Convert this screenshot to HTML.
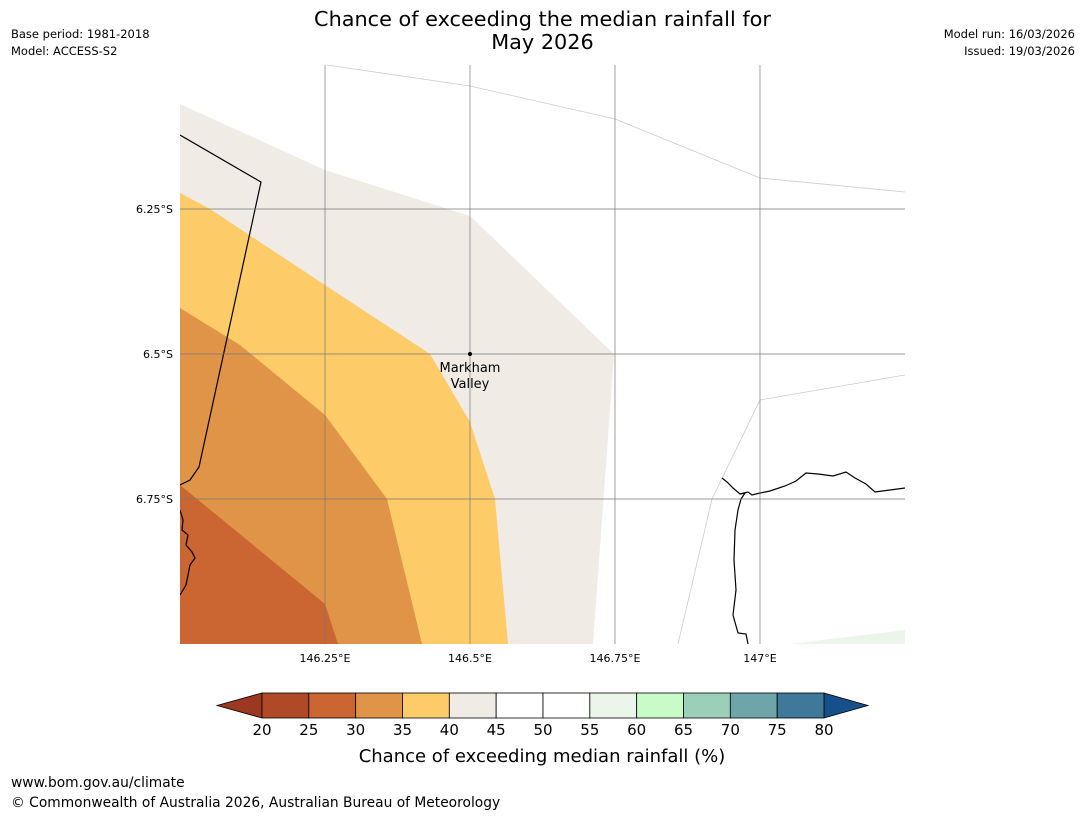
<!DOCTYPE html>
<html><head><meta charset="utf-8"><style>
body{margin:0;background:#fff;font-family:"Liberation Sans","DejaVu Sans",sans-serif;}
#wrap{position:relative;width:1085px;height:816px;overflow:hidden;}
.t{position:absolute;white-space:nowrap;color:#000;}
</style></head><body>
<div id="wrap">
<div class="t" style="left:0;width:1085px;top:8px;text-align:center;font-size:20.8px;line-height:23px;font-family:'DejaVu Sans',sans-serif;">Chance of exceeding the median rainfall for<br>May 2026</div>
<div class="t" style="left:11px;top:27px;font-size:11.5px;font-family:'DejaVu Sans',sans-serif;">Base period: 1981-2018</div>
<div class="t" style="left:11px;top:44px;font-size:11.5px;font-family:'DejaVu Sans',sans-serif;">Model: ACCESS-S2</div>
<div class="t" style="right:10px;top:27px;font-size:11.5px;font-family:'DejaVu Sans',sans-serif;">Model run: 16/03/2026</div>
<div class="t" style="right:10px;top:44px;font-size:11.5px;font-family:'DejaVu Sans',sans-serif;">Issued: 19/03/2026</div>
<div class="t" style="left:11px;top:775px;font-size:13.8px;font-family:'DejaVu Sans',sans-serif;">www.bom.gov.au/climate</div>
<div class="t" style="left:11px;top:795px;font-size:13.8px;font-family:'DejaVu Sans',sans-serif;">© Commonwealth of Australia 2026, Australian Bureau of Meteorology</div>
<svg id="map" width="1085" height="816" style="position:absolute;left:0;top:0">
<defs><clipPath id="mc"><rect x="180" y="65" width="725" height="579"/></clipPath></defs>
<g clip-path="url(#mc)">
<polygon fill="#f0ebe5" points="180,104 325,170 470,216 614,354 593,644 180,644"/>
<polygon fill="#fecb69" points="180,193 210,209 325,285 430,354 470,422 495,499 508,644 180,644"/>
<polygon fill="#e09448" points="180,308 240,345 325,415 387,499 422,644 180,644"/>
<polygon fill="#cb6532" points="180,485 325,604 338,644 180,644"/>
<polygon fill="#ebf5ea" points="790,644 905,630 905,644"/>
<polyline fill="none" stroke="#ccc" stroke-width="0.8" points="327,65 470,86 615,119 760,178 905,192"/>
<polyline fill="none" stroke="#ccc" stroke-width="0.8" points="678,644 712,499 760,400 905,375"/>
<polyline fill="none" stroke="#000" stroke-width="1.2" points="180,135 261,182 199,467 190,480 180,485"/>
<polyline fill="none" stroke="#000" stroke-width="1.2" points="180,510 183,520 182,530 188,535 186,545 192,552 195,558 190,565 188,575 186,585 180,595"/>
<polyline fill="none" stroke="#000" stroke-width="1.2" points="722,478 727,482 733,488 740,494 745,493 741,499 738,510 735,530 734,560 736,590 733,615 738,633 746,634 748,644"/>
<polyline fill="none" stroke="#000" stroke-width="1.2" points="740,494 748,492 752,495 760,493 770,491 785,486 796,481 806,473 818,474 833,476 846,472 855,478 866,484 875,492 890,490 905,488"/>
<g id="grid" stroke="#777" stroke-width="0.7"></g>
</g>
<circle cx="470" cy="354" r="2" fill="#000"/>
<text x="470" y="372" text-anchor="middle" font-size="13" font-family="DejaVu Sans">Markham</text>
<text x="470" y="388" text-anchor="middle" font-size="13" font-family="DejaVu Sans">Valley</text>
<g id="labels" font-size="11" font-family="DejaVu Sans"></g>
<g id="cbar"></g>
<text x="542" y="762" text-anchor="middle" font-size="18" font-family="DejaVu Sans">Chance of exceeding median rainfall (%)</text>
</svg>
</div>
<script>
const lonTicks=[146.25,146.5,146.75,147];
const lonLabels=["146.25°E","146.5°E","146.75°E","147°E"];
const latTicks=[6.25,6.5,6.75];
const latLabels=["6.25°S","6.5°S","6.75°S"];
const cbTicks=[20,25,30,35,40,45,50,55,60,65,70,75,80];
const cbColors=["#b04a26","#cb6532","#e09448","#fecb69","#f0ebe5","#ffffff","#ffffff","#ebf5ea","#c9fbc9","#9bcfb8","#6ea5a8","#3f7898"];
const cbLow="#9c3722", cbHigh="#16508a";
const NS="http://www.w3.org/2000/svg";
const xLon=v=>325+(v-146.25)*580;
const yLat=v=>209+(v-6.25)*580;
const cbX=v=>262+(v-20)*(824-262)/60;
function mk(tag,attrs,parent){const e=document.createElementNS(NS,tag);for(const k in attrs)e.setAttribute(k,attrs[k]);parent.appendChild(e);return e;}
const grid=document.getElementById('grid'),labels=document.getElementById('labels'),cb=document.getElementById('cbar');
lonTicks.forEach((v,i)=>{const l=mk('line',{x1:xLon(v),x2:xLon(v),y1:65,y2:644},grid);


const t=mk('text',{x:xLon(v),y:662,'text-anchor':'middle'},labels);t.textContent=lonLabels[i];

});
latTicks.forEach((v,i)=>{const l=mk('line',{x1:180,x2:905,y1:yLat(v),y2:yLat(v)},grid);


const t=mk('text',{x:173,y:yLat(v)+4,'text-anchor':'end'},labels);t.textContent=latLabels[i];

});
const y0=693,y1=718;
const lo=mk('polygon',{points:`${cbX(20)},${y0} ${cbX(20)},${y1} 217,705.5`,fill:cbLow,stroke:'#000','stroke-width':0.8},cb);


const hi=mk('polygon',{points:`${cbX(80)},${y0} ${cbX(80)},${y1} 868,705.5`,fill:cbHigh,stroke:'#000','stroke-width':0.8},cb);


cbColors.forEach((c,i)=>{const r=mk('rect',{x:cbX(cbTicks[i]),y:y0,width:cbX(cbTicks[i+1])-cbX(cbTicks[i]),height:y1-y0,fill:c,stroke:'#000','stroke-width':0.8},cb);

});
cbTicks.forEach(v=>{const t=mk('text',{x:cbX(v),y:735,'text-anchor':'middle','font-size':15,'font-family':'DejaVu Sans'},cb);t.textContent=v;

});
</script>
</body></html>
